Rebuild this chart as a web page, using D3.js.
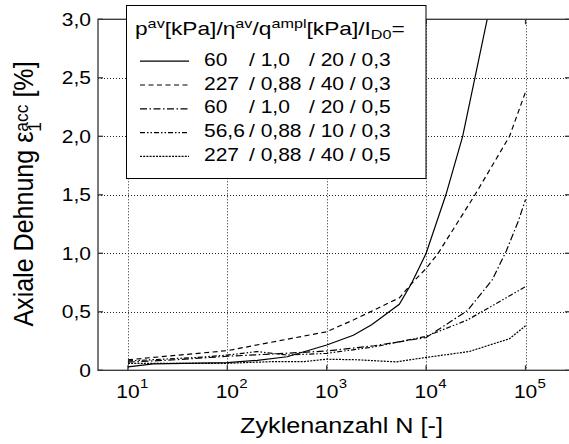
<!DOCTYPE html>
<html>
<head>
<meta charset="utf-8">
<script src="https://cdn.jsdelivr.net/npm/d3@7"></script>
<style>
  body { margin: 0; background: #fff; }
  svg { display: block; }
  text { font-family: "Liberation Sans", Arial, Helvetica, sans-serif; fill: #000; }
</style>
</head>
<body>
<script>
const width = 569;
const height = 444;

// axis ticks
const xTicks = [10, 100, 1000, 10000, 100000];
const xTickExp = ['1', '2', '3', '4', '5'];
const yTicks = [0, 0.5, 1, 1.5, 2, 2.5, 3];
const yTickLabels = ['0', '0,5', '1,0', '1,5', '2,0', '2,5', '3,0'];

// curves (N, eps in %)
const nSolid = [10, 18, 100, 200, 400, 1000, 1850, 2830, 5370, 7140, 10000, 15800, 23300, 41100];
const epsSolid = [0.03, 0.055, 0.065, 0.085, 0.116, 0.216, 0.30, 0.39, 0.564, 0.744, 1.0, 1.5, 2.0, 3.0];

const nDashed = [10, 100, 1000, 1850, 5400, 7100, 10000, 13200, 31000, 69000, 100000];
const epsDashed = [0.09, 0.168, 0.33, 0.43, 0.62, 0.74, 0.87, 1.0, 1.5, 2.0, 2.38];

const nDashDot = [10, 30, 100, 300, 1000, 3000, 10000, 26000, 46000, 64000, 85000, 100000];
const epsDashDot = [0.07, 0.09, 0.12, 0.14, 0.165, 0.21, 0.28, 0.51, 0.77, 1.02, 1.28, 1.46];

const nDashDotDot = [10, 50, 100, 200, 400, 1000, 3000, 10000, 26000, 100000];
const epsDashDotDot = [0.08, 0.11, 0.13, 0.16, 0.13, 0.145, 0.2, 0.29, 0.43, 0.715];

const nDotted = [10, 100, 300, 600, 1000, 2000, 5000, 10000, 27000, 69000, 100000];
const epsDotted = [0.06, 0.06, 0.075, 0.075, 0.095, 0.09, 0.072, 0.11, 0.16, 0.27, 0.38];

// legend texts
const legendFirst = ['60', '227', '60', '56,6', '227'];
const legendEta = ['/ 1,0', '/ 0,88', '/ 1,0', '/ 0,88', '/ 0,88'];
const legendRest = ['/ 20 / 0,3', '/ 40 / 0,3', '/ 20 / 0,5', '/ 10 / 0,3', '/ 40 / 0,5'];

const series = [
  { n: nSolid, eps: epsSolid, dash: null },
  { n: nDashed, eps: epsDashed, dash: '5,3.5' },
  { n: nDashDot, eps: epsDashDot, dash: '7,2.5,1.5,2.5' },
  { n: nDashDotDot, eps: epsDashDotDot, dash: '5,2,1.5,2,1.5,2' },
  { n: nDotted, eps: epsDotted, dash: '2,1.2' }
].map((s, i) => ({ ...s, points: s.n.map((n, j) => ({ n, eps: s.eps[j] })), i }));

const margin = { top: 19.3, left: 98, bottom: 370.3, right: 570 };
const SX = 1.2; // the picture's text is a bit wider than the plain font
const fontSize = 17.5;

const x = d3.scaleLog().domain([5, 2.8e5]).range([margin.left, margin.right]);
const y = d3.scaleLinear().domain([0, 3]).range([margin.bottom, margin.top]);

const svg = d3.select('body').append('svg')
  .attr('width', width)
  .attr('height', height);

svg.append('defs').append('clipPath').attr('id', 'plot-clip')
  .append('rect')
    .attr('x', margin.left)
    .attr('y', margin.top)
    .attr('width', margin.right - margin.left)
    .attr('height', margin.bottom - margin.top);

// grid
const grid = svg.append('g')
  .attr('stroke', '#222')
  .attr('stroke-width', 1)
  .attr('stroke-dasharray', '1,2');

grid.selectAll('.vgrid')
  .data(xTicks)
  .join('line')
    .attr('class', 'vgrid')
    .attr('x1', d => Math.round(x(d)) + 0.5)
    .attr('x2', d => Math.round(x(d)) + 0.5)
    .attr('y1', margin.top)
    .attr('y2', margin.bottom);

grid.selectAll('.hgrid')
  .data(yTicks.filter(d => d > 0 && d < 3))
  .join('line')
    .attr('class', 'hgrid')
    .attr('x1', margin.left)
    .attr('x2', margin.right)
    .attr('y1', d => Math.round(y(d)) + 0.5)
    .attr('y2', d => Math.round(y(d)) + 0.5);

// frame and inward ticks
const frame = svg.append('g').attr('stroke', '#333').attr('stroke-width', 1.3).attr('fill', 'none');
frame.append('rect')
  .attr('x', margin.left)
  .attr('y', margin.top)
  .attr('width', margin.right - margin.left)
  .attr('height', margin.bottom - margin.top);

const tickLen = 5;
frame.selectAll('.xt-bottom').data(xTicks).join('line')
  .attr('x1', d => x(d)).attr('x2', d => x(d))
  .attr('y1', margin.bottom).attr('y2', margin.bottom - tickLen);
frame.selectAll('.xt-top').data(xTicks).join('line')
  .attr('x1', d => x(d)).attr('x2', d => x(d))
  .attr('y1', margin.top).attr('y2', margin.top + tickLen);
frame.selectAll('.yt-left').data(yTicks).join('line')
  .attr('x1', margin.left).attr('x2', margin.left + tickLen)
  .attr('y1', d => y(d)).attr('y2', d => y(d));
frame.selectAll('.yt-right').data(yTicks).join('line')
  .attr('x1', margin.right).attr('x2', margin.right - tickLen)
  .attr('y1', d => y(d)).attr('y2', d => y(d));

// curves
const line = d3.line()
  .x(d => x(d.n))
  .y(d => y(d.eps));

svg.append('g')
  .attr('clip-path', 'url(#plot-clip)')
  .selectAll('path')
  .data(series)
  .join('path')
    .attr('fill', 'none')
    .attr('stroke', '#000')
    .attr('stroke-width', 1.2)
    .attr('stroke-dasharray', d => d.dash)
    .attr('d', d => line(d.points));

// tick labels
svg.selectAll('.ylab')
  .data(yTicks)
  .join('g')
    .attr('class', 'ylab')
    .attr('transform', d => `translate(91,${y(d) + 6.5}) scale(${SX},1)`)
  .append('text')
    .attr('text-anchor', 'end')
    .attr('font-size', fontSize)
    .text((d, i) => yTickLabels[i]);

const xl = svg.selectAll('.xlab')
  .data(xTicks)
  .join('g')
    .attr('class', 'xlab')
    .attr('transform', d => `translate(${x(d)},398) scale(${SX},1)`);
xl.append('text')
  .attr('text-anchor', 'middle')
  .attr('font-size', fontSize)
  .text('10');
xl.append('text')
  .attr('x', 10)
  .attr('y', -10)
  .attr('font-size', 12.5)
  .text((d, i) => xTickExp[i]);

// stretch a text element so that it covers the wanted width
function fitWidth(textSel, target, sy) {
  const w = textSel.node().getComputedTextLength();
  textSel.attr('transform', `scale(${target / w},${sy})`);
}

// x axis title
const xTitle = svg.append('g').attr('transform', 'translate(341.5,433)')
  .append('text')
    .attr('text-anchor', 'middle')
    .attr('font-size', 22)
    .text('Zyklenanzahl N [-]');
fitWidth(xTitle, 203, 1);

// y axis title
const yTitle = svg.append('g').attr('transform', 'translate(33,194) rotate(-90)')
  .append('text')
    .attr('text-anchor', 'middle')
    .attr('font-size', 23);
yTitle.append('tspan').text('Axiale Dehnung ε');
yTitle.append('tspan').attr('font-size', 16).attr('dy', 7).text('1');
yTitle.append('tspan').attr('font-size', 16).attr('dx', -8.9).attr('dy', -11).text('acc');
yTitle.append('tspan').attr('dy', 4).text(' [%]');
fitWidth(yTitle, 275, SX);

// legend
const legend = svg.append('g');
legend.append('rect')
  .attr('x', 126.5)
  .attr('y', 5.5)
  .attr('width', 299.5)
  .attr('height', 173)
  .attr('fill', '#fff')
  .attr('stroke', '#000')
  .attr('stroke-width', 1);

const title = legend.append('g').attr('transform', 'translate(135,35)')
  .append('text')
    .attr('font-size', fontSize);
const titleParts = [
  ['p', 0], ['av', -7], ['[kPa]/', 7], ['η', 0], ['av', -7], ['/', 7], ['q', 0], ['ampl', -7],
  ['[kPa]/', 7], ['I', 0], ['D0', 4], ['=', -4]
];
titleParts.forEach(([t, dy]) => {
  const small = t === 'av' || t === 'ampl' || t === 'D0';
  title.append('tspan')
    .attr('dy', dy)
    .attr('font-size', small ? 12.5 : fontSize)
    .text(t);
});
fitWidth(title, 270, 1);

const rowY = i => 65.7 + i * 23.8;
const rows = legend.selectAll('.row')
  .data(series)
  .join('g')
    .attr('class', 'row');

rows.append('line')
  .attr('x1', 140)
  .attr('x2', 189)
  .attr('y1', d => rowY(d.i) - 4.5)
  .attr('y2', d => rowY(d.i) - 4.5)
  .attr('stroke', '#000')
  .attr('stroke-width', 1.2)
  .attr('stroke-dasharray', d => d.dash);

[[204, legendFirst], [249, legendEta], [309, legendRest]].forEach(([cx, texts]) => {
  rows.append('g')
    .attr('transform', d => `translate(${cx},${rowY(d.i)}) scale(${SX},1)`)
    .append('text')
      .attr('font-size', fontSize)
      .text(d => texts[d.i]);
});
</script>
</body>
</html>
